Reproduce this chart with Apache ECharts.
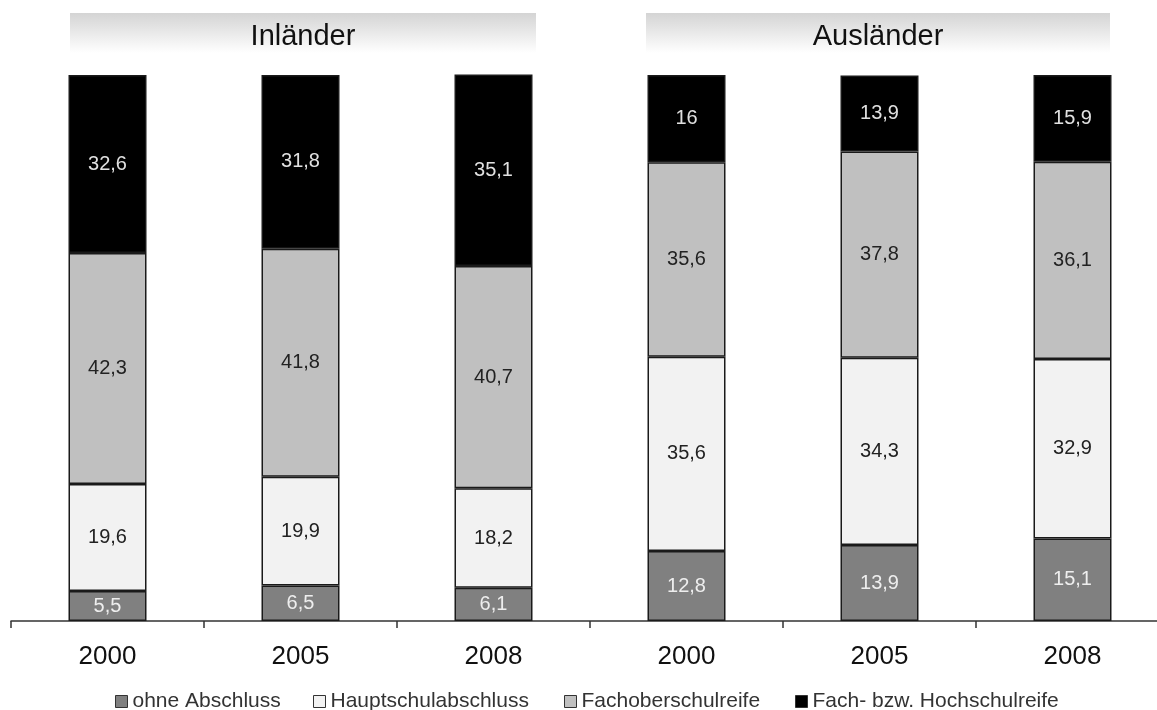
<!DOCTYPE html>
<html>
<head>
<meta charset="utf-8">
<script src="https://cdn.jsdelivr.net/npm/echarts@6/dist/echarts.min.js"></script>
<style>
html,body{margin:0;padding:0;background:#fff;}
#chart{width:1157px;height:710px;}
</style>
</head>
<body>
<div id="chart"></div>
<script>
// Data
var categories = ['2000', '2005', '2008', '2000', '2005', '2008'];
var groupNames = ['Inländer', 'Ausländer'];
var seriesNames = ['ohne Abschluss', 'Hauptschulabschluss', 'Fachoberschulreife', 'Fach- bzw. Hochschulreife'];
var ohneAbschluss = [5.5, 6.5, 6.1, 12.8, 13.9, 15.1];
var hauptschulabschluss = [19.6, 19.9, 18.2, 35.6, 34.3, 32.9];
var fachoberschulreife = [42.3, 41.8, 40.7, 35.6, 37.8, 36.1];
var hochschulreife = [32.6, 31.8, 35.1, 16, 13.9, 15.9];

var seriesData = [ohneAbschluss, hauptschulabschluss, fachoberschulreife, hochschulreife];
var fills = ['#808080', '#f2f2f2', '#c0c0c0', '#000000'];
var labelColors = ['#eeeeee', '#222222', '#222222', '#e0e0e0'];
var legendLefts = [115, 313, 564, 795];

function fmt(v) { return String(v).replace('.', ','); }

var chart = echarts.init(document.getElementById('chart'), null, {renderer: 'canvas'});

var series = seriesData.map(function (d, i) {
  return {
    name: seriesNames[i],
    type: 'bar',
    stack: 'total',
    barWidth: 78,
    data: d,
    itemStyle: { color: fills[i], borderColor: '#1a1a1a', borderWidth: 1.5 },
    label: {
      show: true,
      position: 'inside',
      color: labelColors[i],
      fontFamily: 'Liberation Sans, Arial, sans-serif',
      fontSize: 20,
      formatter: function (p) { return fmt(p.value); }
    },
    emphasis: { disabled: true },
    animation: false
  };
});

var legends = seriesNames.map(function (n, i) {
  return {
    data: [n],
    left: legendLefts[i],
    top: 691,
    padding: 0,
    itemWidth: 12,
    itemHeight: 12,
    icon: 'rect',
    itemStyle: { borderColor: '#333', borderWidth: 1 },
    textStyle: { fontFamily: 'Liberation Sans, Arial, sans-serif', fontSize: 21, color: '#333' },
    selectedMode: false
  };
});

function header(x, w, text) {
  return [{
    type: 'rect',
    shape: { x: x, y: 13, width: w, height: 40 },
    style: {
      fill: new echarts.graphic.LinearGradient(0, 0, 0, 1, [
        { offset: 0, color: '#d4d4d4' },
        { offset: 1, color: '#ffffff' }
      ])
    },
    silent: true
  }, {
    type: 'text',
    x: x + w / 2,
    y: 37,
    style: {
      text: text,
      fontFamily: 'Liberation Sans, Arial, sans-serif',
      fontSize: 29,
      fill: '#111',
      align: 'center',
      verticalAlign: 'middle'
    },
    silent: true
  }];
}

var option = {
  backgroundColor: '#ffffff',
  animation: false,
  legend: legends,
  grid: { left: 11, width: 1158, top: 75, bottom: 89, containLabel: false, outerBoundsMode: 'none' },
  xAxis: {
    type: 'category',
    data: categories,
    boundaryGap: true,
    axisLine: { lineStyle: { color: '#333', width: 1.5 } },
    axisTick: { show: true, length: 7, alignWithLabel: false, lineStyle: { color: '#333', width: 1.5 } },
    axisLabel: {
      margin: 23,
      fontFamily: 'Liberation Sans, Arial, sans-serif',
      fontSize: 26,
      color: '#111',
      interval: 0
    }
  },
  yAxis: {
    type: 'value',
    min: 0,
    max: 100,
    show: false,
    splitLine: { show: false }
  },
  graphic: header(70, 466, groupNames[0]).concat(header(646, 464, groupNames[1])),
  series: series
};
chart.setOption(option);
</script>
</body>
</html>
